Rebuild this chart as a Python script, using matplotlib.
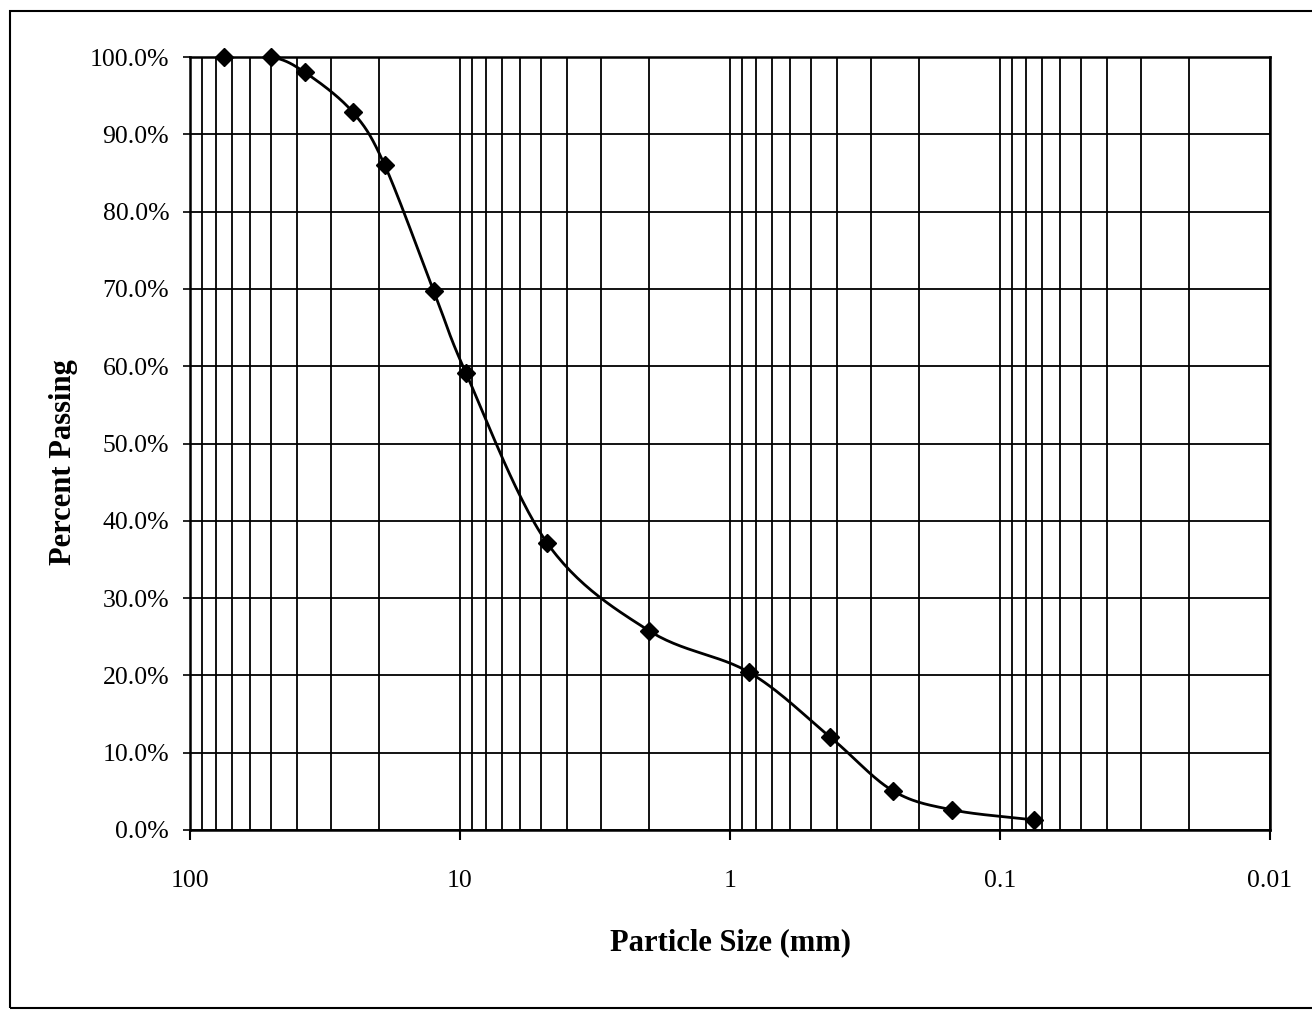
import numpy as np
import matplotlib
matplotlib.use("Agg")
import matplotlib.pyplot as plt
from matplotlib.ticker import LogLocator, FixedLocator, FuncFormatter, NullFormatter
from matplotlib.patches import Rectangle

# ---- data ----
sizes_mm = [75, 50, 37.5, 25, 19, 12.5, 9.5, 4.75, 2.0, 0.85, 0.425, 0.25, 0.15, 0.075]
percent_passing = [100.0, 100.0, 98.0, 92.9, 86.0, 69.7, 59.1, 37.1, 25.8, 20.4, 12.0, 5.1, 2.6, 1.3]
x_major_ticks = [100, 10, 1, 0.1, 0.01]
x_tick_labels = ["100", "10", "1", "0.1", "0.01"]
y_ticks = [0, 10, 20, 30, 40, 50, 60, 70, 80, 90, 100]

plt.rcParams['font.family'] = ['Liberation Serif', 'DejaVu Serif']


def smooth_curve(xs, ys, n=30):
    """Catmull-Rom style smoothing in (log10 x, y) space, like Excel's smoothed line."""
    lx = np.log10(np.asarray(xs, float))
    y = np.asarray(ys, float)
    P = np.column_stack([lx, y])
    P = np.vstack([P[0] - (P[1] - P[0]), P, P[-1] + (P[-1] - P[-2])])
    out = []
    for i in range(1, len(P) - 2):
        p0, p1, p2, p3 = P[i - 1], P[i], P[i + 1], P[i + 2]
        t = np.linspace(0, 1, n)[:, None]
        t2, t3 = t * t, t * t * t
        seg = 0.5 * ((2 * p1) + (-p0 + p2) * t + (2 * p0 - 5 * p1 + 4 * p2 - p3) * t2
                     + (-p0 + 3 * p1 - 3 * p2 + p3) * t3)
        out.append(seg if i == 1 else seg[1:])
    out = np.vstack(out)
    return 10 ** out[:, 0], out[:, 1]


def x_fmt(v, p):
    idx = int(np.argmin([abs(np.log10(t) - np.log10(v)) for t in x_major_ticks]))
    return x_tick_labels[idx]


fig = plt.figure(figsize=(13.12, 10.11), dpi=100)
fig.patch.set_facecolor('white')

# outer frame
fig.patches.append(Rectangle((10 / 1312, 1 - 1008 / 1011), 1.05, (1008 - 11) / 1011,
                             transform=fig.transFigure, fill=False, edgecolor='black',
                             linewidth=1.5))

ax = fig.add_axes([190 / 1312, 1 - 830 / 1011, (1270 - 190) / 1312, (830 - 57) / 1011])
ax.set_xscale('log')
ax.set_xlim(100, 0.01)
ax.set_ylim(0, 100)

ax.xaxis.set_major_locator(FixedLocator(x_major_ticks))
ax.xaxis.set_major_formatter(FuncFormatter(x_fmt))
ax.xaxis.set_minor_locator(LogLocator(base=10, subs=np.arange(2, 10)))
ax.xaxis.set_minor_formatter(NullFormatter())
ax.yaxis.set_major_locator(FixedLocator(y_ticks))
ax.yaxis.set_major_formatter(FuncFormatter(lambda v, p: f"{v:.1f}%"))

ax.grid(True, which='both', axis='x', color='black', linewidth=1.3)
ax.grid(True, which='major', axis='y', color='black', linewidth=1.3)
ax.set_axisbelow(True)

for s in ax.spines.values():
    s.set_linewidth(1.8)
    s.set_color('black')

ax.tick_params(axis='x', which='major', direction='out', length=7, width=1.5, pad=22, labelsize=18.5)
ax.tick_params(axis='x', which='minor', length=0)
ax.tick_params(axis='y', which='major', direction='out', length=5, width=1.2, pad=10, labelsize=18.5)

cx, cy = smooth_curve(sizes_mm, percent_passing)
ax.plot(cx, cy, color='black', linewidth=2.0, zorder=3)
ax.plot(sizes_mm, percent_passing, linestyle='none', marker='D', markersize=9.5,
        color='black', zorder=4, clip_on=False)

ax.set_xlabel('Particle Size (mm)', fontsize=22, fontweight='bold', labelpad=26)
ax.set_ylabel('Percent Passing', fontsize=22, fontweight='bold')
ax.yaxis.set_label_coords(-0.104, 0.476)

fig.savefig('out.png', dpi=100)
